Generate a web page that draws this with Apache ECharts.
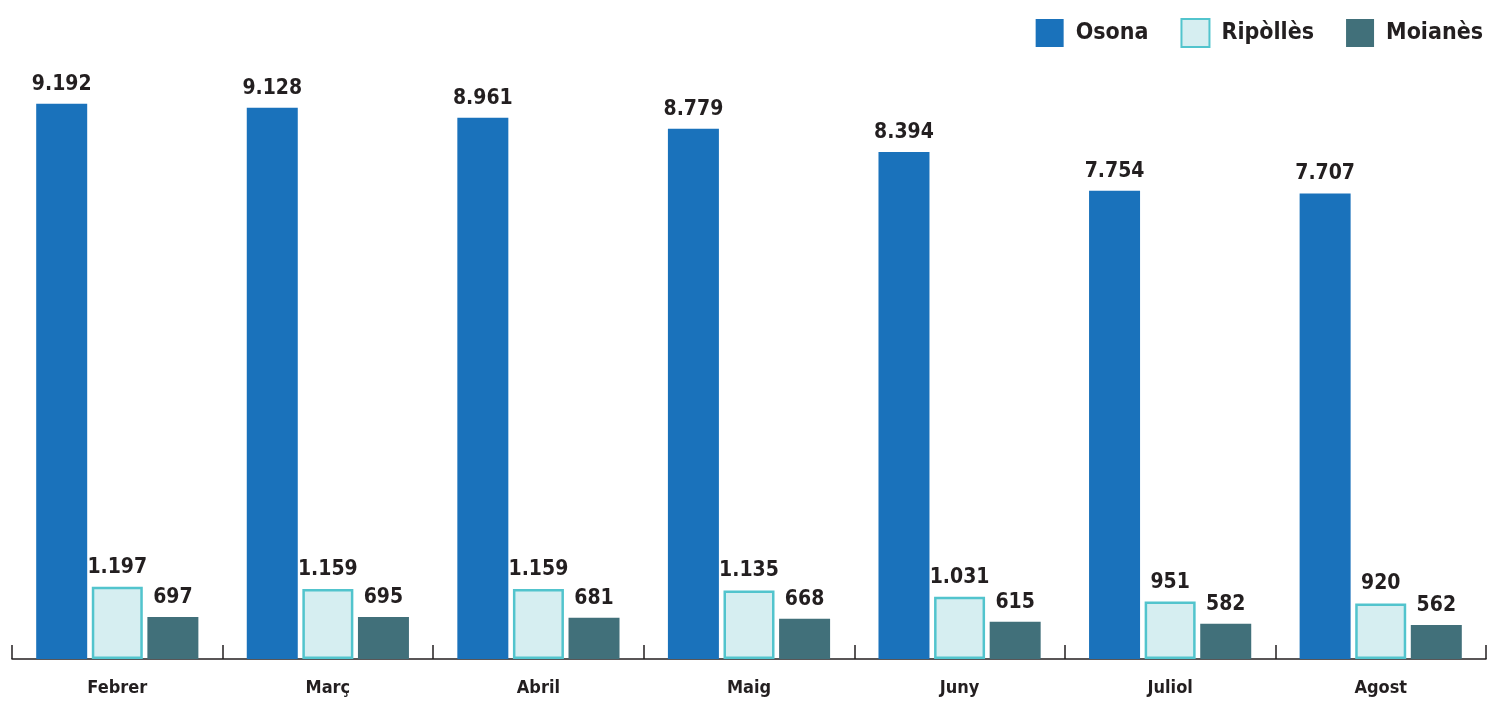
<!DOCTYPE html>
<html><head><meta charset="utf-8">
<script src="https://cdn.jsdelivr.net/npm/echarts@6/dist/echarts.min.js"></script>
<style>html,body{margin:0;padding:0;background:#fff}#c{width:1490px;height:701px}</style>
</head><body><div id="c"></div>
<script>
const categories = ['Febrer','Març','Abril','Maig','Juny','Juliol','Agost'];
const osona = [9192, 9128, 8961, 8779, 8394, 7754, 7707];
const ripolles = [1197, 1159, 1159, 1135, 1031, 951, 920];
const moianes = [697, 695, 681, 668, 615, 582, 562];
const seriesNames = ['Osona','Ripòllès','Moianès'];

const FONT = '"Liberation Sans Narrow","DejaVu Sans Condensed",sans-serif';
const fmt = v => v.toLocaleString('de-DE');
const label = {show:true, position:'top', distance:9, color:'#231f20', fontFamily:FONT, fontWeight:'bold', fontSize:21, formatter:p=>fmt(p.value)};

const chart = echarts.init(document.getElementById('c'));
chart.setOption({
  animation:false,
  legend:{right:2, top:13, itemWidth:28, itemHeight:28, itemGap:32, icon:'rect',
    textStyle:{fontFamily:FONT, fontWeight:'bold', fontSize:23, color:'#231f20', padding:[0,0,0,7]},
    data:seriesNames},
  grid:{left:12, right:4, top:55, bottom:42},
  xAxis:{type:'category', data:categories,
    axisLine:{lineStyle:{color:'#231f20', width:1.5}},
    axisTick:{show:true, interval:0, inside:true, length:14, lineStyle:{color:'#231f20', width:1.5}},
    axisLabel:{margin:20, color:'#231f20', fontFamily:FONT, fontWeight:'bold', fontSize:18}},
  yAxis:{type:'value', min:0, max:10000, show:false, splitLine:{show:false}},
  series:[
    {name:seriesNames[0], type:'bar', data:osona, barWidth:51, barGap:'9%', itemStyle:{color:'#1a72bb'}, label},
    {name:seriesNames[1], type:'bar', data:ripolles, barWidth:51, barGap:'9%', itemStyle:{color:'#d6eef1', borderColor:'#52c4cd', borderWidth:2.5}, label},
    {name:seriesNames[2], type:'bar', data:moianes, barWidth:51, barGap:'9%', itemStyle:{color:'#41707a'}, label}
  ]
});
</script></body></html>
